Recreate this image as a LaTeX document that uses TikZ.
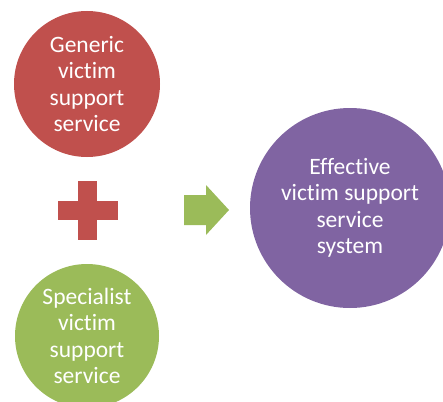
\documentclass[tikz,border=0pt]{standalone}
\usepackage{fontspec}
\setmainfont{Carlito}[Ligatures=NoCommon]
\usepackage{tikz}
\definecolor{offred}{HTML}{C0504D}
\definecolor{offgreen}{HTML}{9BBB59}
\definecolor{offpurple}{HTML}{8064A2}
\tikzstyle{bubble} = [circle, inner sep=0pt, text=white, align=center, font=\fontsize{23.5}{26.5}\selectfont]
\tikzstyle{generic} = [bubble, minimum size=146pt, fill=offred]
\tikzstyle{specialist} = [bubble, minimum size=144pt, fill=offgreen]
\tikzstyle{result} = [bubble, minimum size=200pt, fill=offpurple]

\begin{document}
\begin{tikzpicture}[x=1pt, y=-1pt]
		\useasboundingbox (0,0) rectangle (443,401);
		\clip (0,0) rectangle (443,401);
		\node (gen) [generic] at (87,84) {Generic\\victim\\support\\service};
		\node (spec) [specialist] at (87,336) {Specialist\\victim\\support\\service};
		\node (sys) [result] at (350,208) {Effective\\victim support\\service\\system};
		
		% plus sign between the two services
		\fill [offred] (78,181) rectangle (97,240);
		\fill [offred] (58,201) rectangle (118,220);
		% block arrow towards the system
		\fill [offgreen] (184,195) -- (206,195) -- (206,185) -- (229,210) -- (206,235) -- (206,225) -- (184,225) -- cycle;
	\end{tikzpicture}
\end{document}
